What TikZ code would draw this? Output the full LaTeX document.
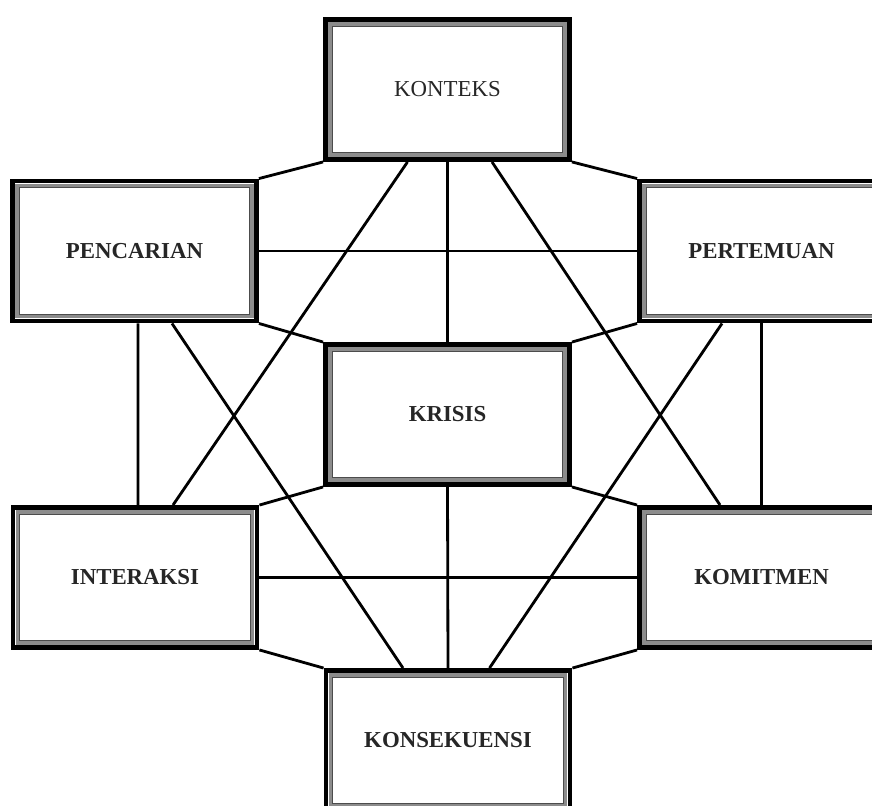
\documentclass[tikz,border=0pt]{standalone}
\usepackage{fontspec}
\setmainfont{Liberation Serif}
\usepackage{tikz}

\begin{document}
\begin{tikzpicture}[x=0.02cm, y=-0.02cm,
	blok/.style={shape=rectangle, draw=black, line width=2.8pt, minimum width=4.88cm, minimum height=2.8cm, font=\fontsize{13}{15}\selectfont\bfseries, text=black!85,
		path picture={\draw[black!45, line width=2pt] ([shift={(2.6pt,2.6pt)}]path picture bounding box.south west) rectangle ([shift={(-2.6pt,-2.6pt)}]path picture bounding box.north east);
			\draw[black!70, line width=0.4pt] ([shift={(3.8pt,3.8pt)}]path picture bounding box.south west) rectangle ([shift={(-3.8pt,-3.8pt)}]path picture bounding box.north east);}},
	garis/.style={line width=1.6pt}]
	\useasboundingbox (0, 0) rectangle (872, 805);
	% Boxes:
	\node[blok, font=\fontsize{13}{15}\selectfont] (konteks) at (447.5, 89.5){KONTEKS};
	\node[blok] (pencarian) at (134.5, 251){PENCARIAN};
	\node[blok] (pertemuan) at (761.5, 251){PERTEMUAN};
	\node[blok] (krisis) at (447.5, 414.5){KRISIS};
	\node[blok] (interaksi) at (135, 577.5){INTERAKSI};
	\node[blok] (komitmen) at (761.5, 577.5){KOMITMEN};
	\node[blok] (konsekuensi) at (448, 740.5){KONSEKUENSI};
	% Outline between corners:
	\draw[garis] (konteks.south west) -- (pencarian.north east);
	\draw[garis] (konteks.south east) -- (pertemuan.north west);
	\draw[garis] (pencarian.south east) -- (krisis.north west);
	\draw[garis] (pertemuan.south west) -- (krisis.north east);
	\draw[garis] (krisis.south west) -- (interaksi.north east);
	\draw[garis] (krisis.south east) -- (komitmen.north west);
	\draw[garis] (interaksi.south east) -- (konsekuensi.north west);
	\draw[garis] (komitmen.south west) -- (konsekuensi.north east);
	% Straight links:
	\draw[garis] (konteks.south) -- (krisis.north);
	\draw[garis] (krisis.south) -- (konsekuensi.north);
	\draw[garis] (pencarian.east) -- (pertemuan.west);
	\draw[garis] (interaksi.east) -- (komitmen.west);
	\draw[garis] ([xshift=0.07cm]pencarian.south) -- ([xshift=0.06cm]interaksi.north);
	\draw[garis] (pertemuan.south) -- (komitmen.north);
	% Diagonals:
	\draw[garis] ([xshift=-0.8cm]konteks.south) -- ([xshift=0.76cm]interaksi.north);
	\draw[garis] ([xshift=0.89cm]konteks.south) -- ([xshift=-0.83cm]komitmen.north);
	\draw[garis] ([xshift=0.75cm]pencarian.south) -- ([xshift=-0.9cm]konsekuensi.north);
	\draw[garis] ([xshift=-0.79cm]pertemuan.south) -- ([xshift=0.83cm]konsekuensi.north);
\end{tikzpicture}
\end{document}
